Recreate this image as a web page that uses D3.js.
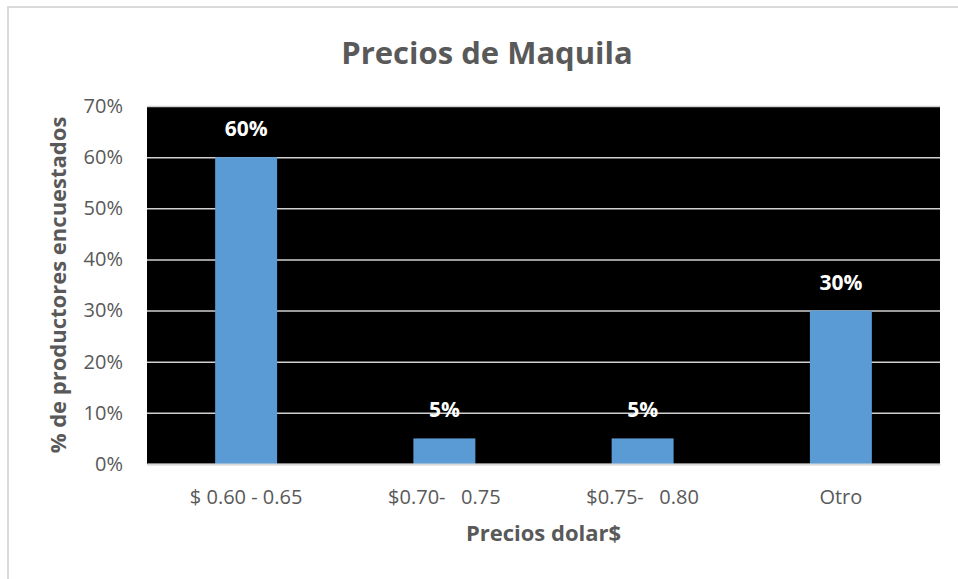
<!DOCTYPE html>
<html>
<head>
<meta charset="utf-8">
<script src="https://cdn.jsdelivr.net/npm/d3@7"></script>
<style>
  body { margin: 0; background: #fff; }
  text { font-family: "Open Sans", "Liberation Sans", sans-serif; }
</style>
</head>
<body>
<svg id="chart" width="958" height="579"></svg>
<script>
// data
const categories = ['$ 0.60 - 0.65', '$0.70-   0.75', '$0.75-   0.80', 'Otro'];
const values = [0.60, 0.05, 0.05, 0.30];
const yTicks = [0, 0.1, 0.2, 0.3, 0.4, 0.5, 0.6, 0.7];

const margin = {left: 147, right: 18, top: 106, bottom: 115};
const width = 958 - margin.left - margin.right;
const height = 579 - margin.top - margin.bottom;

const svg = d3.select('#chart');

// outer chart border (only top and left visible)
svg.append('rect')
  .attr('x', 8).attr('y', 7)
  .attr('width', 980).attr('height', 600)
  .style('fill', '#fff')
  .style('stroke', '#d9d9d9')
  .style('stroke-width', 2);

svg.append('text')
  .attr('x', 487).attr('y', 64)
  .attr('text-anchor', 'middle')
  .style('font-size', '31px')
  .style('font-weight', 'bold')
  .style('fill', '#595959')
  .text('Precios de Maquila');

const g = svg.append('g')
  .attr('transform', `translate(${margin.left}, ${margin.top})`);

const sx = d3.scaleBand()
  .domain(categories)
  .range([0, width])
  .paddingInner(0.6875)
  .paddingOuter(0.34375);

const sy = d3.scaleLinear()
  .domain([0, 0.7])
  .range([height, 0]);

g.append('rect')
  .attr('width', width).attr('height', height)
  .style('fill', '#000');

// gridlines
const yAxis = d3.axisLeft(sy)
  .tickValues(yTicks)
  .tickSize(-width)
  .tickFormat(d3.format('.0%'));

g.append('g')
  .attr('class', 'y axis')
  .call(yAxis)
  .call(a => a.select('.domain').remove())
  .call(a => a.selectAll('g.tick line')
    .style('stroke', '#d0d0d0')
    .style('stroke-width', 1.5))
  .call(a => a.selectAll('g.tick text')
    .attr('x', -24)
    .style('font-size', '20px')
    .style('fill', '#595959'));

g.selectAll('rect.bar')
  .data(values)
  .enter().append('rect')
  .attr('class', 'bar')
  .attr('x', (d, i) => sx(categories[i]))
  .attr('y', d => sy(d))
  .attr('width', sx.bandwidth())
  .attr('height', d => height - sy(d))
  .style('fill', '#5b9bd5');

g.selectAll('text.label')
  .data(values)
  .enter().append('text')
  .attr('class', 'label')
  .attr('x', (d, i) => sx(categories[i]) + sx.bandwidth() / 2)
  .attr('y', d => sy(d) - 21)
  .attr('text-anchor', 'middle')
  .style('font-size', '21px')
  .style('font-weight', 'bold')
  .style('fill', '#fff')
  .text(d => d3.format('.0%')(d));

const xAxis = d3.axisBottom(sx).tickSize(0).tickPadding(26);
g.append('g')
  .attr('class', 'x axis')
  .attr('transform', `translate(0, ${height})`)
  .call(xAxis)
  .call(a => a.select('.domain')
    .style('stroke', '#d9d9d9')
    .style('stroke-width', 2))
  .call(a => a.selectAll('text')
    .style('font-size', '20px')
    .style('fill', '#595959')
    .style('white-space', 'pre'));

svg.append('text')
  .attr('x', margin.left + width / 2).attr('y', 541)
  .attr('text-anchor', 'middle')
  .style('font-size', '22px')
  .style('font-weight', 'bold')
  .style('fill', '#595959')
  .text('Precios dolar$');

svg.append('text')
  .attr('transform', `translate(66, ${margin.top + height / 2}) rotate(-90)`)
  .attr('text-anchor', 'middle')
  .style('font-size', '22px')
  .style('font-weight', 'bold')
  .style('fill', '#595959')
  .text('% de productores encuestados');
</script>
</body>
</html>
